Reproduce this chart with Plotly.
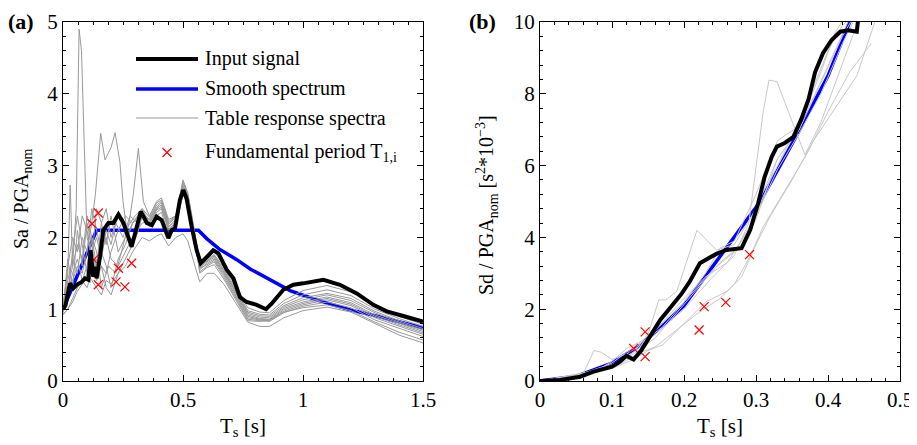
import plotly.graph_objects as go

W, H = 917, 445
OFF = 8  # page body margin
FONT = "Liberation Serif"

# ---- panel (a): Sa / PGA_nom ----
t_input = [0, 0.01, 0.029, 0.043, 0.057, 0.078, 0.092, 0.106, 0.115, 0.126, 0.133, 0.14, 0.154,
           0.168, 0.189, 0.21, 0.231, 0.252, 0.286, 0.307, 0.324, 0.349, 0.37, 0.39, 0.411,
           0.439, 0.453, 0.467, 0.487, 0.501, 0.515, 0.536, 0.557, 0.574, 0.599, 0.626, 0.647,
           0.682, 0.71, 0.737, 0.765, 0.807, 0.846, 0.87, 0.918, 0.96, 1.001, 1.043, 1.085,
           1.154, 1.224, 1.293, 1.349, 1.418, 1.5]
sa_input = [1.0, 1.05, 1.36, 1.29, 1.34, 1.38, 1.43, 1.41, 1.82, 1.45, 1.59, 1.43, 1.73,
            2.1, 2.2, 2.2, 2.32, 2.2, 1.87, 2.13, 2.36, 2.2, 2.17, 2.29, 2.24,
            1.99, 2.1, 2.13, 2.52, 2.66, 2.54, 2.15, 1.82, 1.64, 1.73, 1.82, 1.78,
            1.55, 1.43, 1.17, 1.1, 1.06, 1.0, 1.08, 1.27, 1.34, 1.36, 1.38, 1.41,
            1.34, 1.22, 1.06, 0.97, 0.906, 0.826]

t_smooth = [0, 0.14, 0.564, 0.6, 0.65, 0.724, 0.78, 0.849, 0.946, 1.057, 1.196, 1.3, 1.4, 1.5]
sa_smooth = [1.0, 2.1, 2.1, 1.98, 1.84, 1.69, 1.56, 1.43, 1.26, 1.13, 0.99, 0.91, 0.83, 0.74]

# table response spectra: early part per record, later part on a common period grid
t_late = [0.36, 0.39, 0.41, 0.44, 0.47, 0.50, 0.52, 0.55, 0.57, 0.60, 0.63, 0.67, 0.72,
          0.77, 0.82, 0.86, 0.92, 1.0, 1.1, 1.2, 1.3, 1.4, 1.5]
t_early = [0, 0.02, 0.04, 0.06, 0.08, 0.1, 0.12, 0.14, 0.16, 0.18, 0.2, 0.23, 0.26, 0.29, 0.33]
table_early = [
    ([0, 0.02, 0.04, 0.055, 0.067, 0.077, 0.085, 0.093, 0.1, 0.12, 0.14, 0.16, 0.18, 0.2,
      0.22, 0.25, 0.28, 0.31, 0.33],
     [1.0, 1.3, 1.6, 2.4, 4.9, 4.6, 3.6, 2.6, 2.0, 1.8, 2.0, 1.7, 2.1, 1.9, 2.2, 2.0, 2.3, 2.2, 2.35]),
    ([0, 0.02, 0.04, 0.06, 0.08, 0.1, 0.12, 0.135, 0.157, 0.175, 0.2, 0.217, 0.237, 0.25,
      0.27, 0.29, 0.31, 0.33],
     [1.0, 1.4, 1.7, 1.5, 2.0, 1.8, 2.2, 2.6, 3.45, 3.08, 3.25, 3.46, 3.05, 2.5, 2.0, 1.9, 2.05, 2.3]),
    ([0, 0.02, 0.04, 0.06, 0.08, 0.1, 0.12, 0.14, 0.16, 0.19, 0.22, 0.25, 0.275, 0.293,
      0.314, 0.335],
     [0.95, 1.2, 1.5, 1.7, 1.4, 1.6, 2.0, 1.8, 1.3, 1.6, 1.5, 1.9, 2.2, 2.6, 3.24, 2.5]),
    ([0, 0.02, 0.03, 0.04, 0.06, 0.08, 0.1, 0.12, 0.14, 0.16, 0.18, 0.2, 0.23, 0.26, 0.3, 0.33],
     [1.05, 1.5, 2.73, 1.6, 1.9, 1.7, 2.3, 2.0, 1.6, 2.2, 2.4, 2.0, 2.3, 2.1, 2.3, 2.4]),
    (t_early, [0.92, 1.0, 1.1, 1.25, 1.35, 1.5, 1.4, 1.3, 1.2, 1.4, 1.35, 1.5, 1.7, 1.9, 2.3]),
    (t_early, [1.0, 1.7, 1.3, 2.1, 1.6, 2.2, 1.9, 1.5, 1.8, 1.6, 1.3, 1.7, 1.9, 2.2, 2.3]),
    (t_early, [0.97, 1.2, 1.8, 2.3, 1.9, 1.5, 1.7, 2.4, 2.2, 1.9, 2.3, 1.8, 2.0, 2.2, 2.4]),
    (t_early, [1.0, 1.6, 2.0, 1.8, 2.3, 2.1, 1.7, 1.4, 1.6, 1.5, 1.8, 2.1, 2.3, 2.2, 2.35]),
    (t_early, [0.98, 1.3, 1.4, 1.6, 1.5, 1.8, 2.4, 2.1, 1.8, 2.0, 1.7, 1.6, 1.8, 2.0, 2.2]),
    (t_early, [0.93, 1.0, 1.15, 1.3, 1.4, 1.3, 1.5, 1.7, 1.6, 1.3, 1.2, 1.5, 1.6, 1.8, 2.0]),
]
table_late = [
    [2.25, 2.45, 2.5, 2.2, 2.3, 2.75, 2.6, 2.0, 1.66, 1.72, 1.80, 1.62, 1.32, 1.02, 0.96, 0.95, 1.12, 1.26, 1.33, 1.24, 1.05, 0.9, 0.79],
    [2.2, 2.4, 2.45, 2.15, 2.25, 2.7, 2.55, 1.95, 1.62, 1.70, 1.76, 1.58, 1.28, 0.98, 0.93, 0.92, 1.08, 1.2, 1.27, 1.19, 1.0, 0.87, 0.76],
    [2.3, 2.5, 2.55, 2.25, 2.3, 2.8, 2.62, 2.05, 1.6, 1.68, 1.74, 1.55, 1.25, 0.96, 0.91, 0.90, 1.05, 1.16, 1.22, 1.15, 0.97, 0.84, 0.73],
    [2.2, 2.35, 2.4, 2.1, 2.2, 2.65, 2.5, 1.95, 1.58, 1.66, 1.72, 1.52, 1.22, 0.94, 0.89, 0.88, 1.03, 1.13, 1.20, 1.12, 0.95, 0.82, 0.71],
    [2.25, 2.42, 2.48, 2.18, 2.28, 2.72, 2.58, 2.0, 1.63, 1.67, 1.75, 1.54, 1.24, 0.92, 0.87, 0.86, 1.01, 1.1, 1.17, 1.09, 0.92, 0.8, 0.69],
    [2.15, 2.3, 2.35, 2.05, 2.15, 2.6, 2.45, 1.9, 1.55, 1.64, 1.70, 1.50, 1.2, 0.90, 0.86, 0.85, 0.99, 1.08, 1.15, 1.07, 0.90, 0.78, 0.67],
    [2.28, 2.48, 2.52, 2.22, 2.3, 2.78, 2.6, 2.0, 1.57, 1.62, 1.68, 1.48, 1.18, 0.88, 0.85, 0.84, 0.97, 1.06, 1.13, 1.05, 0.88, 0.76, 0.65],
    [2.2, 2.38, 2.42, 2.12, 2.2, 2.68, 2.52, 1.95, 1.52, 1.6, 1.66, 1.45, 1.15, 0.86, 0.84, 0.83, 0.95, 1.04, 1.10, 1.02, 0.85, 0.73, 0.62],
    [2.22, 2.4, 2.45, 2.15, 2.22, 2.7, 2.55, 1.97, 1.50, 1.58, 1.62, 1.42, 1.12, 0.84, 0.83, 0.85, 0.96, 1.02, 1.06, 0.98, 0.82, 0.68, 0.57],
    [1.95, 2.02, 2.05, 1.88, 2.0, 2.05, 1.95, 1.6, 1.38, 1.5, 1.5, 1.35, 1.08, 0.82, 0.76, 0.76, 0.88, 0.98, 1.03, 0.96, 0.8, 0.64, 0.53],
]

t1_a = [0.121, 0.147, 0.128, 0.147, 0.221, 0.231, 0.258, 0.286]
sa_t1 = [2.19, 2.34, 1.69, 1.34, 1.38, 1.57, 1.31, 1.64]

# ---- panel (b): Sd / PGA_nom ----
t_input_b = [0, 0.028, 0.056, 0.074, 0.1, 0.111, 0.12, 0.13, 0.141, 0.153, 0.167, 0.18, 0.197,
             0.208, 0.222, 0.234, 0.245, 0.259, 0.28, 0.292, 0.303, 0.312, 0.322, 0.329, 0.34,
             0.352, 0.363, 0.373, 0.382, 0.393, 0.405, 0.417, 0.428, 0.44, 0.442]
sd_input = [0, 0.03, 0.12, 0.26, 0.4, 0.54, 0.7, 0.6, 0.86, 1.24, 1.7, 2.02, 2.44,
            2.77, 3.28, 3.42, 3.54, 3.65, 3.7, 4.21, 4.95, 5.69, 6.25, 6.53, 6.63,
            6.8, 7.3, 7.85, 8.6, 9.13, 9.5, 9.73, 9.77, 9.73, 10.1]

t_smooth_b = [0, 0.05, 0.1, 0.14, 0.2, 0.259, 0.306, 0.354, 0.4, 0.43, 0.44]
sd_smooth = [0, 0.13, 0.5, 1.0, 2.1, 3.7, 5.0, 6.75, 8.5, 10.0, 10.4]

table_b = [
    ([0, 0.05, 0.08, 0.1, 0.13, 0.16, 0.2, 0.24, 0.27, 0.29, 0.31, 0.318, 0.329, 0.347, 0.368, 0.39, 0.42, 0.445],
     [0, 0.15, 0.35, 0.45, 0.8, 1.3, 2.0, 2.9, 3.5, 4.4, 7.5, 8.38, 8.34, 7.4, 6.3, 7.2, 8.8, 10.2]),
    ([0, 0.06, 0.1, 0.13, 0.15, 0.165, 0.175, 0.19, 0.218, 0.245, 0.27, 0.3, 0.33, 0.36, 0.39, 0.42, 0.44],
     [0, 0.15, 0.4, 0.8, 1.3, 2.26, 2.26, 2.5, 4.2, 3.65, 3.8, 4.8, 6.2, 7.0, 8.3, 9.6, 10.3]),
    ([0, 0.06, 0.075, 0.085, 0.1, 0.12, 0.14, 0.16, 0.2, 0.23, 0.26, 0.29, 0.32, 0.35, 0.38, 0.41, 0.43],
     [0, 0.2, 0.85, 0.8, 0.6, 0.75, 1.0, 1.4, 2.3, 2.9, 3.3, 4.2, 5.6, 6.8, 7.9, 9.2, 10.1]),
    ([0, 0.05, 0.1, 0.13, 0.15, 0.17, 0.2, 0.23, 0.26, 0.28, 0.3, 0.32, 0.35, 0.38, 0.41, 0.44, 0.465],
     [0, 0.1, 0.35, 0.6, 0.85, 1.0, 1.6, 2.2, 2.5, 2.9, 3.8, 4.6, 5.6, 6.7, 7.6, 8.5, 10.0]),
    ([0, 0.06, 0.1, 0.13, 0.16, 0.19, 0.22, 0.25, 0.28, 0.3, 0.33, 0.36, 0.38, 0.4, 0.42, 0.435],
     [0, 0.15, 0.45, 0.75, 1.2, 1.9, 2.6, 3.3, 3.8, 4.5, 6.2, 7.0, 8.2, 9.2, 9.9, 10.2]),
    ([0, 0.06, 0.1, 0.14, 0.16, 0.2, 0.22, 0.25, 0.27, 0.29, 0.31, 0.34, 0.37, 0.4, 0.43, 0.46],
     [0, 0.12, 0.35, 0.8, 0.95, 1.6, 1.9, 2.3, 2.7, 3.4, 4.3, 5.3, 6.3, 7.5, 8.6, 9.4]),
    ([0, 0.05, 0.08, 0.1, 0.12, 0.14, 0.17, 0.2, 0.23, 0.25, 0.27, 0.3, 0.33, 0.36, 0.39, 0.41, 0.425],
     [0, 0.2, 0.3, 0.55, 0.9, 1.1, 1.6, 2.2, 3.0, 3.7, 3.9, 5.2, 6.7, 7.1, 8.6, 9.7, 10.2]),
    ([0, 0.06, 0.1, 0.12, 0.14, 0.17, 0.2, 0.24, 0.27, 0.3, 0.33, 0.36, 0.39, 0.42, 0.44],
     [0, 0.18, 0.5, 0.8, 1.05, 1.5, 2.2, 3.1, 3.6, 4.6, 5.9, 6.9, 8.0, 9.4, 10.2]),
]

t1_b = [0.13, 0.146, 0.146, 0.221, 0.228, 0.258, 0.291]
sd_t1 = [0.91, 1.37, 0.68, 1.42, 2.07, 2.19, 3.52]

FW, FH = W - OFF, H - OFF


def px(x):
    # page pixel -> paper fraction (figure sits OFF px in from the page corner)
    return (x - OFF) / FW


def py(y):
    return (FH - (y - OFF)) / FH


fig = go.Figure()

# panel a
fig.add_trace(go.Scatter(x=t_smooth, y=sa_smooth, mode="lines", line=dict(color="#0000ff", width=3.5),
                         xaxis="x", yaxis="y", showlegend=False))
for (te, se), sl in zip(table_early, table_late):
    fig.add_trace(go.Scatter(x=te + t_late, y=se + sl, mode="lines",
                             line=dict(color="#999999", width=1), xaxis="x", yaxis="y", showlegend=False))
fig.add_trace(go.Scatter(x=t1_a, y=sa_t1, mode="markers",
                         marker=dict(symbol="x-thin", size=9, line=dict(color="#ff0000", width=1.2)),
                         xaxis="x", yaxis="y", showlegend=False))
fig.add_trace(go.Scatter(x=t_input, y=sa_input, mode="lines", line=dict(color="black", width=4),
                         xaxis="x", yaxis="y", showlegend=False))

# panel b
fig.add_trace(go.Scatter(x=t_smooth_b, y=sd_smooth, mode="lines", line=dict(color="#0000ff", width=3.5),
                         xaxis="x2", yaxis="y2", showlegend=False))
for tb, sb in table_b:
    fig.add_trace(go.Scatter(x=tb, y=sb, mode="lines", line=dict(color="#c8c8c8", width=1),
                             xaxis="x2", yaxis="y2", showlegend=False))
fig.add_trace(go.Scatter(x=t1_b, y=sd_t1, mode="markers",
                         marker=dict(symbol="x-thin", size=9, line=dict(color="#ff0000", width=1.2)),
                         xaxis="x2", yaxis="y2", showlegend=False))
fig.add_trace(go.Scatter(x=t_input_b, y=sd_input, mode="lines", line=dict(color="black", width=4),
                         xaxis="x2", yaxis="y2", showlegend=False))

tickfont = dict(family=FONT, size=21, color="black")
common = dict(showline=True, linecolor="black", linewidth=1.3, mirror="ticks", ticks="inside",
              ticklen=6, tickwidth=1, tickcolor="black", showgrid=False, zeroline=False,
              tickfont=tickfont, automargin=False)

fig.update_layout(
    width=FW, height=FH,
    margin=dict(l=0, r=0, t=0, b=0),
    paper_bgcolor="white", plot_bgcolor="white",
    xaxis=dict(domain=[px(63), px(423)], range=[0, 1.5], tickvals=[0, 0.5, 1, 1.5],
               ticktext=["0", "0.5", "1", "1.5"], anchor="y",
               minor=dict(dtick=0.0625, tick0=0, ticks="inside", ticklen=3, tickcolor="black"), **common),
    yaxis=dict(domain=[py(381), py(22)], range=[0, 5], dtick=1, anchor="x",
               minor=dict(dtick=0.2, ticks="inside", ticklen=3, tickcolor="black"), **common),
    xaxis2=dict(domain=[px(540), px(900)], range=[0, 0.5], dtick=0.1, anchor="y2",
                minor=dict(dtick=0.02, ticks="inside", ticklen=3, tickcolor="black"), **common),
    yaxis2=dict(domain=[py(381), py(22)], range=[0, 10], dtick=2, anchor="x2",
                minor=dict(dtick=0.4, ticks="inside", ticklen=3, tickcolor="black"), **common),
)

txt = dict(family=FONT, size=20, color="black")
ann = [
    dict(x=px(21), y=py(21), text="<b>(a)</b>", font=dict(family=FONT, size=22, color="black")),
    dict(x=px(482), y=py(21), text="<b>(b)</b>", font=dict(family=FONT, size=22, color="black")),
    dict(x=px(243), y=py(427), text="T<sub>s</sub> [s]", font=dict(family=FONT, size=21, color="black")),
    dict(x=px(720), y=py(427), text="T<sub>s</sub> [s]", font=dict(family=FONT, size=21, color="black")),
    dict(x=px(22), y=py(199), text="Sa / PGA<sub>nom</sub>", font=txt, textangle=-90),
    dict(x=px(487), y=py(205), text="Sd / PGA<sub>nom</sub> [s<sup>2</sup>*10<sup>\u22123</sup>]",
         font=txt, textangle=-90),
]
legend_rows = [("Input signal", 59), ("Smooth spectrum", 89), ("Table response spectra", 119),
               ("Fundamental period T<sub>1,i</sub>", 152)]
for label, yy in legend_rows:
    ann.append(dict(x=px(203), y=py(yy), text=label, font=txt, xanchor="left"))
for a in ann:
    a.setdefault("xanchor", "center")
    a.update(xref="paper", yref="paper", showarrow=False, yanchor="middle")
fig.update_layout(annotations=ann)

shapes = [
    dict(x0=px(136), x1=px(198), y0=py(59), y1=py(59), line=dict(color="black", width=4)),
    dict(x0=px(136), x1=px(198), y0=py(89), y1=py(89), line=dict(color="#0000ff", width=3.5)),
    dict(x0=px(136), x1=px(198), y0=py(118), y1=py(118), line=dict(color="#999999", width=1)),
    dict(x0=px(162.5), x1=px(171.5), y0=py(148), y1=py(157), line=dict(color="#ff0000", width=1.2)),
    dict(x0=px(162.5), x1=px(171.5), y0=py(157), y1=py(148), line=dict(color="#ff0000", width=1.2)),
]
for s in shapes:
    s.update(type="line", xref="paper", yref="paper")
fig.update_layout(shapes=shapes)

fig.write_html("out.html")
